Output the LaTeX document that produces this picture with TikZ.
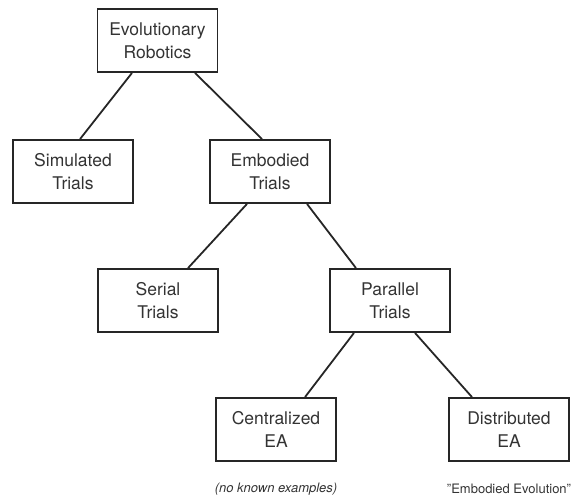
\documentclass[tikz,border=0pt]{standalone}
\usepackage{fontspec}
\setmainfont{TeX Gyre Heros}
\begin{document}
\begin{tikzpicture}[x=1pt,y=-1pt,
  box/.style={draw=black!85, line width=1.8pt, minimum width=120pt, minimum height=63pt,
    align=center, font=\fontsize{17.5}{23.5}\selectfont, text=black!80, inner sep=0pt},
  link/.style={draw=black!85, line width=1.8pt},
  note/.style={font=\fontsize{13}{15}\selectfont, text=black!80, inner sep=0pt}]
\useasboundingbox (0,0) rectangle (581,499);
\node[box] (evo) at (157.5,40.5) {Evolutionary\\Robotics};
\node[box] (sim) at (73,171.5) {Simulated\\Trials};
\node[box] (emb) at (270,171.5) {Embodied\\Trials};
\node[box] (ser) at (158,300.5) {Serial\\Trials};
\node[box] (par) at (390,300.5) {Parallel\\Trials};
\node[box] (cen) at (276,429.5) {Centralized\\EA};
\node[box] (dis) at (509,429.5) {Distributed\\EA};
\node[note, font=\fontsize{13}{15}\selectfont\itshape] (n1) at (276,489) {(no known examples)};
\node[note] (n2) at (509,489) {\symbol{"22}Embodied Evolution\symbol{"22}};
\draw[link] ([xshift=-25.5pt]evo.south) -- ([xshift=7pt]sim.north);
\draw[link] ([xshift=37.5pt]evo.south) -- ([xshift=-8pt]emb.north);
\draw[link] ([xshift=-23pt]emb.south) -- ([xshift=30pt]ser.north);
\draw[link] ([xshift=37pt]emb.south) -- ([xshift=-34pt]par.north);
\draw[link] ([xshift=-36pt]par.south) -- ([xshift=29pt]cen.north);
\draw[link] ([xshift=25pt]par.south) -- ([xshift=-37pt]dis.north);
\end{tikzpicture}
\end{document}
